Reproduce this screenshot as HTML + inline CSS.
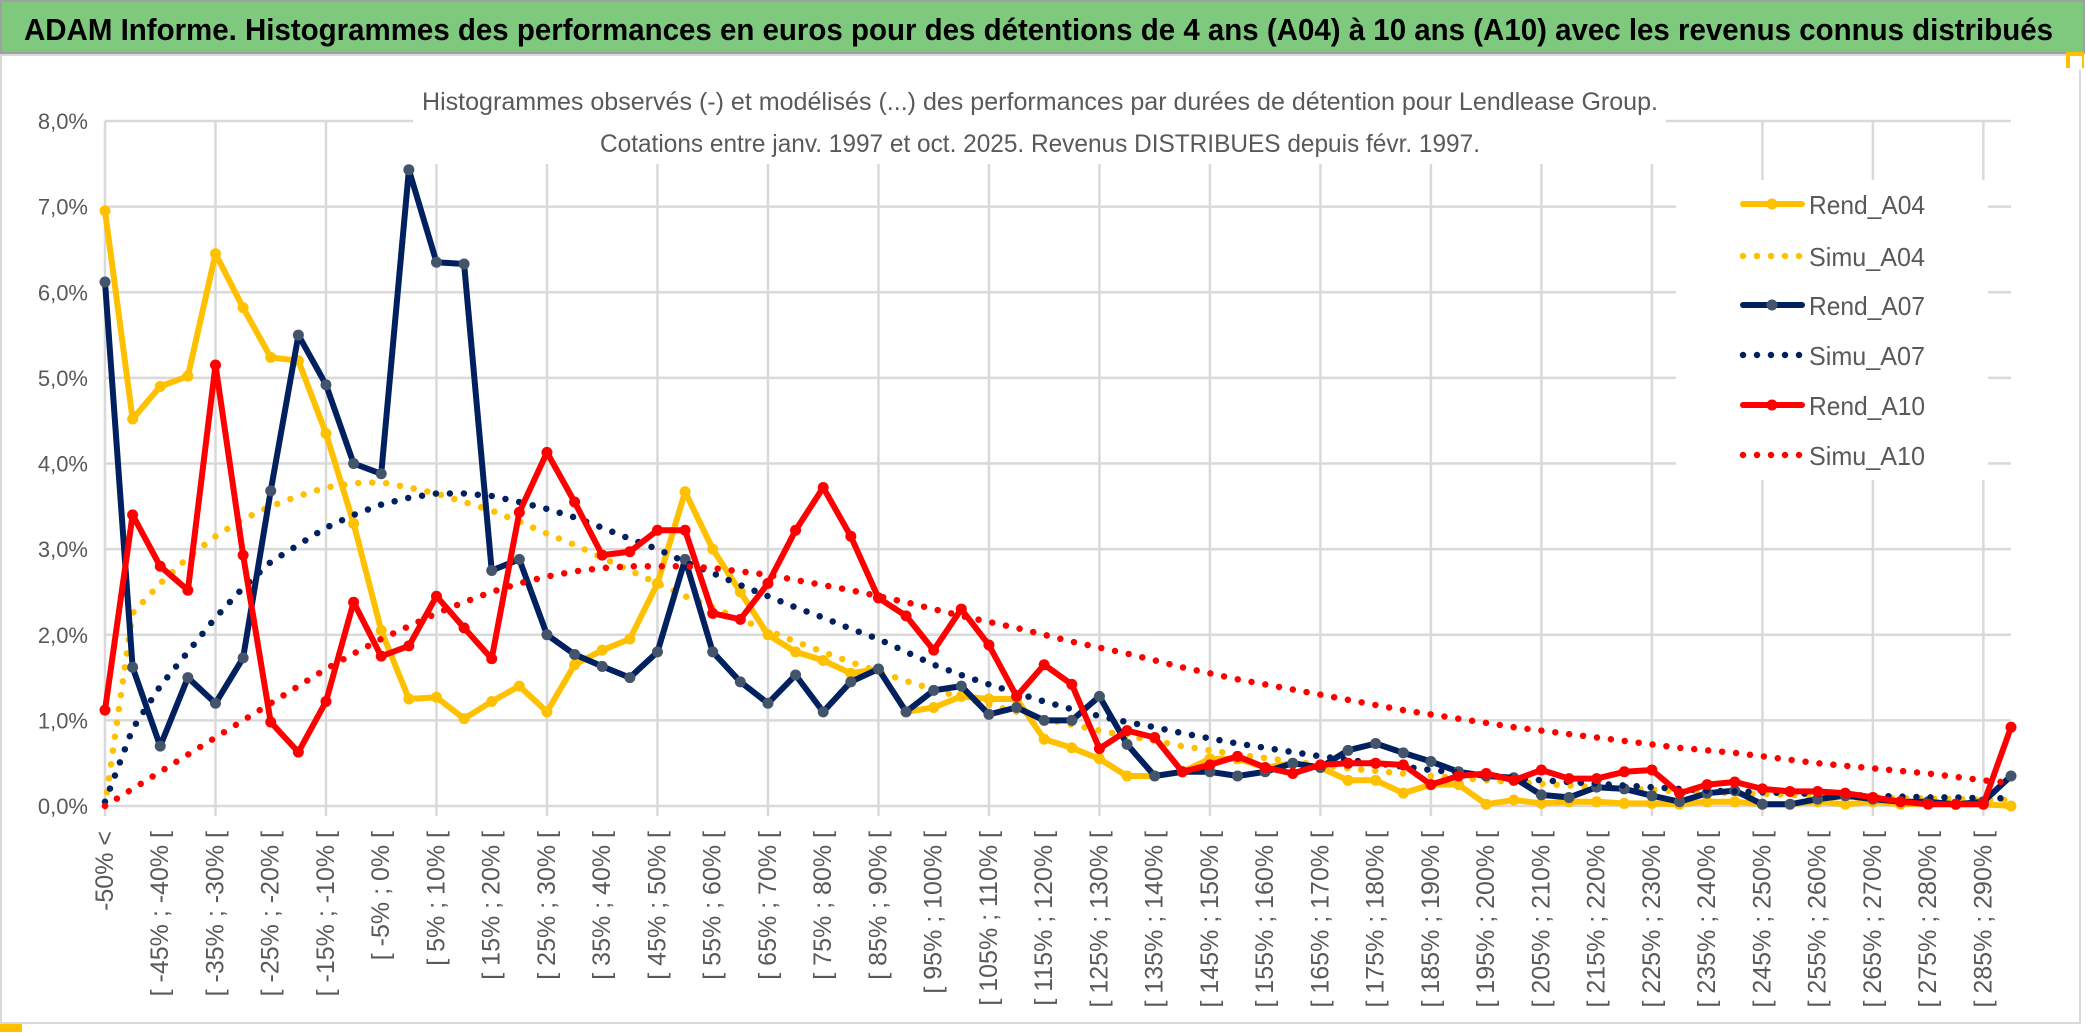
<!DOCTYPE html>
<html><head><meta charset="utf-8"><style>
html,body{margin:0;padding:0;background:#fff;}
svg{display:block;}
</style></head><body>
<svg id="chart" width="2086" height="1033" viewBox="0 0 2086 1033" xmlns="http://www.w3.org/2000/svg">
<rect x="0" y="0" width="2086" height="1033" fill="#ffffff"/>
<rect x="1" y="1" width="2083" height="52" fill="#7fc97f" stroke="#a0a0a0" stroke-width="2"/>
<text x="24" y="40" font-family="Liberation Sans, sans-serif" font-weight="bold" font-size="31" fill="#000" textLength="2029" lengthAdjust="spacingAndGlyphs">ADAM Informe. Histogrammes des performances en euros pour des détentions de 4 ans (A04) à 10 ans (A10) avec les revenus connus distribués</text>
<rect x="1" y="55" width="2079" height="968" fill="#fff" stroke="#d9d9d9" stroke-width="2"/>
<rect x="0" y="1024" width="22" height="8" fill="#ffc000"/>
<rect x="2066" y="52" width="18" height="16" fill="#ffc000"/>
<rect x="2070" y="56" width="12" height="14" fill="#fff"/>
<g id="grid"></g>
<g id="ylabels"></g>
<g id="xlabels"></g>
<rect x="413" y="84" width="1253" height="36" fill="#fff"/>
<rect x="413" y="120" width="1253" height="44" fill="#fff"/>
<rect x="1676" y="180" width="312" height="300" fill="#fff"/>
<g id="series"></g>
<text x="422" y="110" font-family="Liberation Sans, sans-serif" font-size="25" fill="#595959" textLength="1236" lengthAdjust="spacingAndGlyphs">Histogrammes observés (-) et modélisés (...) des performances par durées de détention pour Lendlease Group.</text>
<text x="600" y="152" font-family="Liberation Sans, sans-serif" font-size="25" fill="#595959" textLength="880" lengthAdjust="spacingAndGlyphs">Cotations entre janv. 1997 et oct. 2025. Revenus DISTRIBUES depuis févr. 1997.</text>
<g id="legend"></g>
</svg>
<script>
const categories = (function(){ const c=["-50% <"]; for(let a=-50;a<=290;a+=5){ c.push("[ "+a+"% ; "+(a+5)+"% ["); } return c; })();
const yTicks = [0,1,2,3,4,5,6,7,8];
const yTickLabels = ["0,0%","1,0%","2,0%","3,0%","4,0%","5,0%","6,0%","7,0%","8,0%"];
const seriesNames = ["Rend_A04","Simu_A04","Rend_A07","Simu_A07","Rend_A10","Simu_A10"];
const rendA04 = [6.95,4.52,4.9,5.02,6.45,5.82,5.24,5.2,4.35,3.3,2.05,1.25,1.27,1.02,1.22,1.4,1.1,1.65,1.82,1.95,2.6,3.67,3.0,2.5,2.0,1.8,1.7,1.55,1.6,1.1,1.15,1.28,1.25,1.25,0.78,0.68,0.55,0.35,0.35,0.4,0.55,0.55,0.45,0.5,0.45,0.3,0.3,0.15,0.25,0.25,0.02,0.07,0.03,0.05,0.05,0.03,0.03,0.02,0.05,0.05,0.02,0.02,0.05,0.02,0.05,0.02,0.03,0.02,0.02,0.0];
const simuA04 = [0,2.25,2.6,2.9,3.15,3.35,3.5,3.62,3.72,3.77,3.78,3.72,3.65,3.55,3.45,3.32,3.18,3.05,2.9,2.75,2.6,2.45,2.32,2.18,2.05,1.92,1.8,1.68,1.57,1.46,1.36,1.27,1.18,1.1,1.02,0.95,0.88,0.82,0.76,0.7,0.65,0.6,0.56,0.52,0.48,0.44,0.41,0.38,0.35,0.33,0.3,0.28,0.26,0.24,0.22,0.2,0.19,0.17,0.16,0.15,0.14,0.13,0.12,0.11,0.1,0.09,0.09,0.08,0.07,0.07];
const rendA07 = [6.12,1.62,0.7,1.5,1.2,1.73,3.68,5.5,4.92,4.0,3.88,7.43,6.35,6.33,2.75,2.88,2.0,1.77,1.63,1.5,1.8,2.88,1.8,1.45,1.2,1.53,1.1,1.45,1.6,1.1,1.35,1.4,1.07,1.15,1.0,1.0,1.28,0.72,0.35,0.4,0.4,0.35,0.4,0.5,0.45,0.65,0.73,0.62,0.52,0.4,0.35,0.33,0.13,0.1,0.22,0.2,0.12,0.05,0.15,0.18,0.02,0.02,0.08,0.12,0.08,0.05,0.05,0.02,0.05,0.35];
const simuA07 = [0.05,0.9,1.4,1.8,2.2,2.55,2.85,3.05,3.25,3.4,3.52,3.6,3.65,3.65,3.62,3.55,3.47,3.37,3.25,3.12,3.0,2.85,2.72,2.58,2.45,2.32,2.2,2.07,1.95,1.8,1.65,1.53,1.42,1.32,1.22,1.13,1.05,0.98,0.92,0.85,0.79,0.73,0.68,0.63,0.58,0.54,0.5,0.46,0.42,0.39,0.36,0.33,0.3,0.28,0.26,0.24,0.22,0.2,0.18,0.17,0.16,0.15,0.14,0.13,0.12,0.11,0.1,0.1,0.09,0.09];
const rendA10 = [1.12,3.4,2.8,2.52,5.15,2.93,0.98,0.63,1.22,2.38,1.75,1.87,2.45,2.08,1.72,3.43,4.13,3.55,2.93,2.97,3.22,3.22,2.25,2.18,2.6,3.22,3.72,3.15,2.43,2.22,1.82,2.3,1.88,1.28,1.65,1.42,0.67,0.88,0.8,0.4,0.48,0.58,0.45,0.38,0.48,0.5,0.5,0.48,0.25,0.35,0.38,0.3,0.42,0.32,0.32,0.4,0.42,0.15,0.25,0.28,0.2,0.17,0.17,0.15,0.1,0.05,0.02,0.02,0.02,0.92];
const simuA10 = [0.0,0.2,0.4,0.6,0.8,1.0,1.2,1.4,1.6,1.78,1.95,2.1,2.25,2.38,2.5,2.6,2.68,2.74,2.78,2.8,2.8,2.8,2.78,2.74,2.7,2.64,2.58,2.52,2.45,2.38,2.3,2.22,2.15,2.08,2.0,1.92,1.85,1.78,1.7,1.62,1.55,1.48,1.42,1.36,1.3,1.24,1.18,1.12,1.07,1.02,0.97,0.92,0.88,0.84,0.8,0.76,0.72,0.68,0.65,0.62,0.58,0.54,0.5,0.47,0.44,0.41,0.38,0.34,0.3,0.27];

const NS="http://www.w3.org/2000/svg";
const X0=105, X1=2011, Y0=806, YTOP=121, YMAX=8;
function xPos(i){ return X0 + i*(X1-X0)/(categories.length-1); }
function yPos(v){ return Y0 - v*(Y0-YTOP)/YMAX; }
function mk(tag, attrs, parent){ const e=document.createElementNS(NS,tag); for(const k in attrs) e.setAttribute(k, attrs[k]); parent.appendChild(e); return e; }

const grid=document.getElementById('grid');
yTicks.forEach(function(t){
  const l=mk('line',{x1:X0,x2:X1,y1:yPos(t),y2:yPos(t),stroke:'#d9d9d9','stroke-width':2.5},grid);
  
  
});
for(let i=0;i<categories.length;i+=4){
  const l=mk('line',{x1:xPos(i),x2:xPos(i),y1:yPos(YMAX),y2:Y0+10,stroke:'#d9d9d9','stroke-width':2.5},grid);
  
  
}
const yl=document.getElementById('ylabels');
yTicks.forEach(function(t,k){
  const e=mk('text',{x:88,y:yPos(t)+8,'text-anchor':'end','font-family':'Liberation Sans, sans-serif','font-size':22,fill:'#595959'},yl);
  e.textContent=yTickLabels[k];
  
  
});
const xl=document.getElementById('xlabels');
for(let i=0;i<categories.length;i+=2){
  const x=xPos(i), y=831;
  const e=mk('text',{x:x,y:y,transform:'rotate(-90 '+x+' '+y+')','text-anchor':'end','dominant-baseline':'central','font-family':'Liberation Sans, sans-serif','font-size':25,fill:'#595959'},xl);
  e.textContent=categories[i];
  
  
}
const colors=["#ffc000","#ffc000","#002060","#002060","#ff0000","#ff0000"];
const markerColors=["#ffc000",null,"#44546a",null,"#ff0000",null];
const seriesData=[rendA04,simuA04,rendA07,simuA07,rendA10,simuA10];
const sg=document.getElementById('series');
seriesData.forEach(function(arr,s){
  const pts=arr.map(function(v,i){ return xPos(i).toFixed(1)+','+yPos(v).toFixed(1); }).join(' ');
  const dotted = (s%2===1);
  const p=mk('polyline',{points:pts,fill:'none',stroke:colors[s],'stroke-width':dotted?6.5:6,'stroke-linejoin':'round','stroke-linecap':'round'},sg);
  if(dotted){ p.setAttribute('stroke-dasharray','0 14'); }
  
  
  if(!dotted){
    arr.forEach(function(v,i){
      const c=mk('circle',{cx:xPos(i),cy:yPos(v),r:5.5,fill:markerColors[s]},sg);
      
      
    });
  }
});
const lg=document.getElementById('legend');
const legendY=[204,256,305,355,405,455];
seriesNames.forEach(function(n,s){
  const y=legendY[s];
  const g=mk('g',{},lg);
  
  
  const l=mk('line',{x1:1743,x2:1802,y1:y,y2:y,stroke:colors[s],'stroke-width':s%2?6.5:6,'stroke-linecap':'round'},g);
  if(s%2){ l.setAttribute('stroke-dasharray','0 14'); l.setAttribute('x2',1800); }
  
  
  if(!(s%2)){
    const c=mk('circle',{cx:1772,cy:y,r:5.5,fill:markerColors[s]},g);
    
    
  }
  const t=mk('text',{x:1809,y:y+10,'font-family':'Liberation Sans, sans-serif','font-size':26,fill:'#595959',textLength:116,lengthAdjust:'spacingAndGlyphs'},g);
  t.textContent=n;
  
  
});
</script>
</body></html>
